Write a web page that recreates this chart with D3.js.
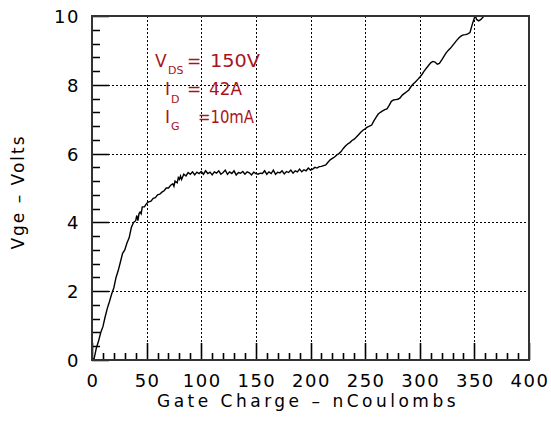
<!DOCTYPE html>
<html>
<head>
<meta charset="utf-8">
<script src="https://cdn.jsdelivr.net/npm/d3@7"></script>
<style>
    body { margin: 0; background: #fff; }
    svg { display: block; }
    .tick-label { font-family: "DejaVu Sans", sans-serif; font-size: 18px; fill: #000; letter-spacing: 1.5px; }
    .axis-title { font-family: "DejaVu Sans", sans-serif; font-size: 17px; fill: #000; }
    .note { font-family: "DejaVu Sans", sans-serif; font-size: 17px; fill: #a8141c; }
    .note-sub { font-size: 11px; }
</style>
</head>
<body>
<svg id="chart" width="551" height="440"></svg>
<script>
// gate charge (nC) and gate voltage (V)
const charge = [0, 2, 4, 6, 8, 10, 12, 14, 16, 18, 20, 22, 24, 26, 28, 30, 32, 34, 36, 38,
    40, 41, 42, 43, 44, 45, 46, 48, 50, 52, 54, 56, 58, 60, 62, 64, 66, 68, 70, 72,
    74, 75, 76, 78, 79, 80, 81, 82, 84, 86, 88, 90, 92, 94, 96, 98, 100, 102, 104, 106,
    108, 110, 112, 114, 116, 118, 120, 122, 124, 126, 128, 130, 132, 134, 136, 138, 140, 142, 144, 146,
    148, 150, 152, 154, 156, 158, 160, 162, 164, 166, 168, 170, 172, 174, 176, 178, 180, 182, 184, 186,
    188, 190, 192, 194, 196, 198, 200, 202, 204, 206, 208, 210, 212, 214, 216, 218, 220, 222, 224, 226,
    228, 230, 232, 234, 236, 238, 240, 242, 244, 246, 248, 250, 252, 254, 256, 258, 260, 262, 264, 266,
    268, 270, 272, 274, 276, 278, 280, 282, 284, 286, 288, 290, 292, 294, 296, 298, 300, 302, 304, 306,
    308, 310, 312, 314, 316, 318, 320, 322, 324, 326, 328, 330, 332, 334, 336, 338, 340, 342, 344, 346,
    348, 350, 351, 352, 354, 356, 358, 360, 362];
const vge = [0, 0.05, 0.35, 0.55, 0.8, 0.97, 1.25, 1.5, 1.7, 1.92, 2.1, 2.4, 2.6, 2.85, 3.1, 3.2, 3.4, 3.55, 3.85, 4.0,
    4.05, 4.2, 4.05, 4.25, 4.3, 4.25, 4.45, 4.45, 4.55, 4.6, 4.62, 4.7, 4.72, 4.8, 4.82, 4.88, 4.92, 5.0, 5.0, 5.08,
    5.12, 5.05, 5.2, 5.15, 5.3, 5.25, 5.35, 5.25, 5.4, 5.35, 5.45, 5.4, 5.47, 5.38, 5.46, 5.42, 5.48, 5.4, 5.5, 5.42,
    5.46, 5.38, 5.47, 5.43, 5.5, 5.4, 5.45, 5.52, 5.4, 5.47, 5.42, 5.5, 5.38, 5.45, 5.43, 5.48, 5.4, 5.47, 5.44, 5.38,
    5.46, 5.42, 5.4, 5.43, 5.42, 5.5, 5.4, 5.47, 5.42, 5.52, 5.4, 5.46, 5.44, 5.5, 5.41, 5.48, 5.45, 5.52, 5.43, 5.5,
    5.47, 5.55, 5.47, 5.53, 5.5, 5.58, 5.52, 5.55, 5.6, 5.58, 5.62, 5.63, 5.65, 5.67, 5.75, 5.82, 5.86, 5.9, 5.96, 6.0,
    6.06, 6.15, 6.22, 6.28, 6.32, 6.38, 6.42, 6.48, 6.55, 6.62, 6.68, 6.72, 6.77, 6.8, 6.83, 6.95, 7.05, 7.15, 7.2, 7.24,
    7.28, 7.3, 7.4, 7.52, 7.56, 7.57, 7.58, 7.62, 7.7, 7.75, 7.8, 7.85, 7.95, 8.02, 8.08, 8.15, 8.22, 8.3, 8.4, 8.48,
    8.56, 8.64, 8.68, 8.66, 8.6, 8.62, 8.72, 8.82, 8.92, 9.0, 9.06, 9.14, 9.22, 9.3, 9.37, 9.42, 9.45, 9.46, 9.48, 9.52,
    9.75, 9.95, 10.0, 9.9, 9.86, 9.9, 9.97, 10.02, 10.05];

const x_ticks = [0, 50, 100, 150, 200, 250, 300, 350, 400];
const y_ticks = [0, 2, 4, 6, 8, 10];
const x_minor_step = 10;
const y_minor_step = 0.4;
const x_title = 'Gate Charge \u2013 nCoulombs';
const y_title = 'Vge \u2013 Volts';
// symbol, subscript, "=" part, value
const notes = [['V', 'DS', '=', '150V'], ['I', 'D', '=', '42A'], ['I', 'G', '', '=10mA']];

const svg = d3.select('#chart');
const x = d3.scaleLinear().domain([0, 400]).range([92, 529]);
const y = d3.scaleLinear().domain([0, 10]).range([360, 16]);

// dotted grid
let grid = svg.append('g').attr('stroke', '#000').attr('stroke-width', 1)
    .attr('stroke-dasharray', '2,2').attr('shape-rendering', 'crispEdges');
grid.selectAll('line.gx').data(x_ticks.slice(1, -1)).join('line')
    .attr('x1', d => Math.round(x(d)) + 0.5).attr('x2', d => Math.round(x(d)) + 0.5)
    .attr('y1', y(10)).attr('y2', y(0));
grid.selectAll('line.gy').data(y_ticks.slice(1, -1)).join('line')
    .attr('y1', d => Math.round(y(d)) + 0.5).attr('y2', d => Math.round(y(d)) + 0.5)
    .attr('x1', x(0)).attr('x2', x(400));

// minor + major ticks, drawn inward as one path
let x_minor = d3.range(0, 41).map(i => i * x_minor_step);
let y_minor = d3.range(0, 26).map(i => i * y_minor_step);
let tick_path = d3.path();
x_minor.forEach((d, i) => {
    let px = Math.round(x(d)) + 0.5;
    tick_path.moveTo(px, y(0));
    tick_path.lineTo(px, y(0) - (i % 5 === 0 ? 17 : 7));
});
y_minor.forEach((d, i) => {
    let py = Math.round(y(d)) + 0.5;
    tick_path.moveTo(x(0), py);
    tick_path.lineTo(x(0) + (i % 5 === 0 ? 17 : 8), py);
});
svg.append('path').attr('d', tick_path.toString())
    .attr('fill', 'none').attr('stroke', '#000').attr('stroke-width', 1.6);

// the trace
svg.append('clipPath').attr('id', 'plot-clip').append('rect')
    .attr('x', x(0)).attr('y', y(10)).attr('width', x(400) - x(0)).attr('height', y(0) - y(10));
let line = d3.line().x((d, i) => x(charge[i])).y(d => y(d));
svg.append('path').datum(vge)
    .attr('clip-path', 'url(#plot-clip)')
    .attr('fill', 'none').attr('stroke', '#000').attr('stroke-width', 1.4)
    .attr('d', line);

// frame
svg.append('rect')
    .attr('x', x(0)).attr('y', y(10)).attr('width', x(400) - x(0)).attr('height', y(0) - y(10))
    .attr('fill', 'none').attr('stroke', '#333').attr('stroke-width', 2);

// tick labels
svg.selectAll('text.xl').data(x_ticks).join('text')
    .attr('class', 'tick-label').attr('text-anchor', 'middle')
    .attr('x', d => x(d) + 1).attr('y', 387).text(d => d);
svg.selectAll('text.yl').data(y_ticks).join('text')
    .attr('class', 'tick-label').attr('text-anchor', 'end')
    .attr('x', 80).attr('y', d => y(d) + 7).text(d => d);

// axis titles
svg.append('text').attr('class', 'axis-title').attr('text-anchor', 'middle')
    .style('letter-spacing', '3.5px')
    .attr('x', 308).attr('y', 407).text(x_title);
svg.append('text').attr('class', 'axis-title').attr('text-anchor', 'middle')
    .style('letter-spacing', '2px')
    .attr('transform', 'translate(24,192) rotate(-90)').text(y_title);

// test conditions
let note_rows = [
    {x: 155, y: 67, sub_x: 168, sub_y: 74, eq_x: 187, val_x: 210, val_w: 50},
    {x: 165, y: 95, sub_x: 171, sub_y: 103, eq_x: 187, val_x: 209, val_w: 33},
    {x: 165, y: 123, sub_x: 171, sub_y: 130, eq_x: 187, val_x: 198, val_w: 56}
];
notes.forEach((n, i) => {
    let r = note_rows[i];
    let g = svg.append('g').attr('class', 'note');
    g.append('text').attr('x', r.x).attr('y', r.y).text(n[0]);
    g.append('text').attr('class', 'note-sub').attr('x', r.sub_x).attr('y', r.sub_y).text(n[1]);
    if (n[2]) {
        g.append('text').attr('x', r.eq_x).attr('y', r.y).text(n[2]);
    }
    g.append('text').attr('x', r.val_x).attr('y', r.y)
        .attr('textLength', r.val_w).attr('lengthAdjust', 'spacingAndGlyphs').text(n[3]);
});
</script>
</body>
</html>
